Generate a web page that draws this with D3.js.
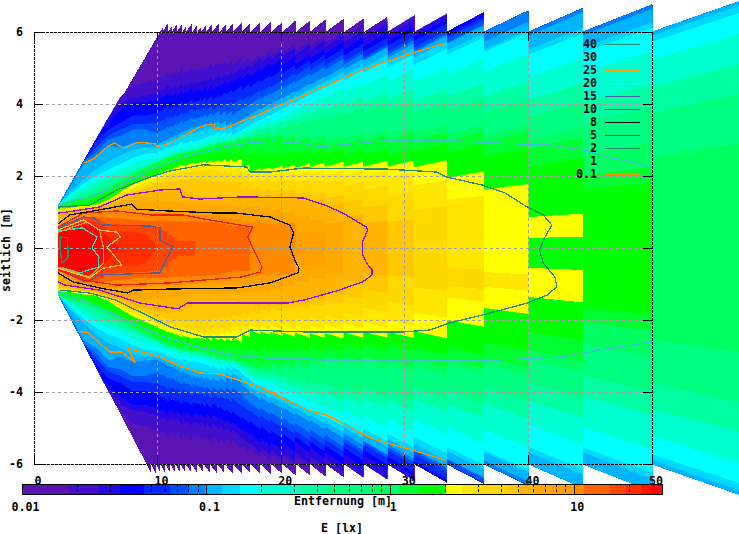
<!DOCTYPE html>
<html><head><meta charset="utf-8">
<style>html,body{margin:0;padding:0;background:#fff}svg{display:block}text{font-family:"DejaVu Sans Mono",monospace;font-weight:bold;font-size:11.67px;fill:#000}</style>
<script src="https://cdn.jsdelivr.net/npm/d3@7/dist/d3.min.js"></script>
</head><body><div id="c"></div>
<script>
// colour bands: lower limit of E [lx] and colour
const bandFloors=[0.01,0.018,0.026,0.034,0.046,0.0635,0.08,0.098,0.122,0.152,0.2,0.32,0.45,0.8,1.12,1.44,2,2.45,3,4.2,5,6,7.4,10,11.3,15.6,19,23,26];
const bandColors=["#5a14b4","#4210cc","#2808e0","#0000ff","#0828ff","#0050ff","#0080ff","#00b4ff","#00d8ff","#00ffff","#00ffd0","#00ffa0","#00ff80","#00ff60","#00ff30","#00ff00","#ffff00","#ffe600","#ffd800","#ffc800","#ffb400","#ffa800","#ffa000","#ff8c00","#ff6400","#ff4600","#ff2d00","#ff1400","#ff0000"];
// measuring stations along the road [m]
const stations=[2,3,4,5,6,7,8,9,10,11.5,13,14.5,16,17.4,19.1,21.1,23.5,25,26.6,28.6,30.7,33.4,36.4,40,44.4,50];
const stationEnd=57.1;
const lowerStretch=[1.1,1.1,1.1,1.1,1.1,1.08,1.08,1.08,1.08,1.07,1.06,1.05,1.05,1.08,1.07,1.06,1.05,1.04,1.03,1.03,1.03,1.03,1.03,1.03,1.02,1];
// lateral half width [m] reached by each band at each station
const band1=[1.2,1.8,2.4,3,3.6,4.19,4.5,4.58,4.67,4.78,4.89,5,5.08,5.14,5.33,5.47,5.69,5.86,5.94,6,6,6,6,6,6,6];
const band2=[1.2,1.8,2.4,3,3.6,4.03,4.17,4.22,4.31,4.39,4.53,4.64,4.78,5,5.22,5.36,5.56,5.69,5.81,5.89,5.97,6,6,6,6,6];
const band3=[1.2,1.8,2.4,3,3.47,3.81,4.03,4.03,4.11,4.19,4.31,4.39,4.58,4.75,5.03,5.08,5.39,5.5,5.58,5.72,5.86,6,6,6,6,6];
const band4=[1.2,1.8,2.4,2.92,3.28,3.47,3.67,3.67,3.75,3.89,4.03,4.11,4.31,4.44,4.72,4.94,5.22,5.33,5.44,5.61,5.75,5.89,6,6,6,6];
const band5=[1.2,1.8,2.4,2.78,3.11,3.28,3.44,3.44,3.47,3.61,3.78,3.83,3.97,4.17,4.44,4.78,5.06,5.17,5.28,5.44,5.56,5.81,6,6,6,6];
const band6=[1.2,1.8,2.4,2.64,3,3.11,3.28,3.28,3.19,3.39,3.56,3.67,3.67,3.97,4.25,4.58,4.94,5.08,5.22,5.36,5.47,5.69,6,6,6,6];
const band7=[1.2,1.72,2.31,2.5,2.83,2.78,2.92,2.89,2.86,3.11,3.33,3.42,3.39,3.69,3.97,4.31,4.72,4.94,5.19,5.28,5.42,5.67,5.72,5.89,5.89,6];
const band8=[1.2,1.58,1.89,2.17,2.39,2.56,2.72,2.78,2.78,3,3.17,3.28,3.28,3.56,3.83,4.17,4.58,4.78,5,5.14,5.28,5.47,5.5,5.5,5.56,5.89];
const band9=[1.2,1.5,1.78,2,2.17,2.33,2.5,2.61,2.64,2.83,2.94,3.11,3.11,3.39,3.67,4.03,4.44,4.64,4.86,5,5.08,5.36,5.44,5.36,5.42,5.72];
const band10=[1.2,1.44,1.67,1.86,2,2.17,2.33,2.44,2.5,2.69,2.83,3,3.06,3.28,3.47,3.83,4.17,4.31,4.5,4.61,4.61,4.81,4.89,4.75,4.86,5.22];
const band11=[1.2,1.36,1.56,1.72,1.89,2.03,2.17,2.28,2.39,2.58,2.72,2.86,2.97,3.19,3.33,3.61,3.83,3.94,4.03,4.11,4.06,4.19,4.19,4.11,4.03,4.47];
const band12=[1.2,1.31,1.44,1.58,1.72,1.89,2.06,2.22,2.33,2.5,2.64,2.78,2.89,3.06,3.19,3.39,3.56,3.67,3.75,3.83,3.75,3.83,3.75,3.64,3.47,3.75];
const band13=[1.18,1.29,1.39,1.5,1.66,1.86,2.06,2.22,2.39,2.58,2.7,2.86,2.94,3.03,3.06,3.03,2.97,3.03,3.06,3.11,3.17,3.14,3.11,3,2.6,2.53];
const band14=[1.17,1.28,1.36,1.47,1.61,1.81,2,2.17,2.33,2.53,2.64,2.78,2.86,2.94,2.97,2.92,2.81,2.86,2.92,2.97,2.97,2.97,2.94,2.75,2];
const band15=[1.14,1.19,1.22,1.39,1.53,1.72,1.92,2.08,2.22,2.44,2.56,2.58,2.61,2.56,2.56,2.58,2.58,2.58,2.58,2.58,2.67,2.64,2.53,2.25,1.61];
const band16=[1.08,1.11,1.17,1.19,1.33,1.56,1.75,1.89,2.03,2.22,2.33,2.36,2.39,2.11,2.17,2.22,2.25,2.25,2.25,2.25,2.25,1.94,1.61];
const band17=[1.06,1.08,1.14,1.17,1.31,1.5,1.67,1.81,1.94,2.11,2.22,2.25,2.17,2,2,2.03,2.03,2,2,1.94,1.75,1.33];
const band18=[1.03,1.06,1.11,1.14,1.28,1.44,1.61,1.72,1.86,2,2.11,2.11,2,1.86,1.83,1.81,1.78,1.72,1.61,1.44,1.06];
const band19=[1,1.03,1.08,1.11,1.25,1.39,1.53,1.64,1.75,1.83,1.89,1.83,1.75,1.61,1.56,1.5,1.39,1.28,1.14,0.72];
const band20=[0.94,1,1.06,1.11,1.19,1.33,1.44,1.53,1.61,1.61,1.39,1.39,1.39,1.42,1.42,1.39,1.17,0.89,0.69];
const band21=[0.83,0.97,1.03,1.08,1.14,1.22,1.33,1.31,1.28,1.25,1.19,1.17,1.14,1.11,1.06,0.86,0.67];
const band22=[0.69,0.92,1,1.06,1.11,1.14,1.22,1.06,1.03,1,0.97,0.97,0.94,0.92,0.94,0.42];
const band23=[0.61,0.75,0.92,0.97,1,1,1,0.97,0.94,0.92,0.89,0.86,0.78,0.69,0.67];
const band24=[0.58,0.69,0.81,0.86,0.83,0.81,0.78,0.75,0.75,0.72,0.72,0.69,0.58];
const band25=[0.56,0.69,0.86,0.83,0.64,0.64,0.61,0.61,0.56,0.19];
const band26=[0.54,0.67,0.78,0.72,0.5,0.45,0.44,0.4];
const band27=[0.53,0.62,0.69,0.62,0.3];
const band28=[0.5,0.58,0.62,0.56];
const bandTable=[band1,band2,band3,band4,band5,band6,band7,band8,band9,band10,band11,band12,band13,band14,band15,band16,band17,band18,band19,band20,band21,band22,band23,band24,band25,band26,band27,band28];
// outer limit of the measured field
const edgeXUpper=[2,10.2,10.4,10.85,11.15,11.55,12,12.3,12.8,13.2,13.5,13.9,14.4,15,15.5,16.1,16.8,17.5,18.3,19.2,20.1,21.2,22.3,23.6,25.1,26.7,28.6,30.8,33.4,36.4,40,44.4,50];
const edgeUpper=[1.2,6,6,6,6,6,6,6,6,6,6,6,6,6,6,6,6,6,6,6,6,6,6,6,6,6,6,6,6,6,6,6,6];
const edgeXLower=[2,9.1,9.45,9.85,10.2,10.6,11,11.4,11.8,12.25,12.7,13.2,13.7,14.2,14.8,15.4,16.1,16.8,17.5,18.3,19.2,20.1,21.2,22.3,23.6,25.1,26.7,28.6,30.8,33.4,36.4,40,44.4,50];
const edgeLower=[1.32,6,6,6,6,6,6,6,6,6,6,6,6,6,6,6,6,6,6,6,6,6,6,6,6,6,6,6,6,6,6,6,6,6];
// local lobes that do not follow the band table: [from, to, band index, y top, y bottom]
const lobes=[[40,44.4,16,0.86,0.28],[40,44.4,16,-0.55,-1.36],[36.4,40,17,-0.67,-1.08],[33.4,36.4,18,-0.55,-1.05],[25,26.6,20,-0.7,0.0]];
// isolux lines
const isoLevels=["40","30","25","20","15","10","8","5","2","1","0.1"];
const isoColors=["#2a8a70","#40d8c8","#ffa000","#f0c040","#4a60a0","#e82010","#000000","#9010d0","#2a8a78","#40c0d0","#ff9000"];
const iso40=[[2.1,.31],[2.7,.28],[2.75,0],[2.75,-.28],[2.25,-.42],[2.1,0],[2.1,.31]];
const iso30=[[1.94,.47],[3.9,.56],[5.1,.31],[4.7,0],[5.25,-.25],[5.2,-.53],[3.7,-.69],[2.1,-.53]];
const iso25=[[1.94,.44],[4.3,.72],[5.3,.5],[5.6,.03],[5.6,-.42],[4.5,-.81],[1.94,-.53]];
const iso20=[[1.94,.5],[4,.78],[5.3,.5],[6.7,.44],[7,.31],[5.9,.03],[7.1,-.47],[5.6,-.56],[4.5,-.83],[1.94,-.56]];
const iso15=[[1.94,.56],[4,.86],[4.9,.83],[5.5,.64],[9.4,.61],[10.2,.56],[10.2,.22],[11.25,.03],[10.8,-.25],[10.2,-.69],[5.3,-.75],[4.3,-.94],[1.94,-.61]];
const iso10=[[1.94,.58],[4,.97],[6.7,1.03],[9.4,.92],[12.05,.92],[13.7,.81],[17.7,.58],[17.3,.31],[17.7,0],[18.45,-.53],[18.3,-.67],[16.7,-.81],[13.7,-.89],[11,-.97],[6.7,-1.03],[4,-.89],[1.94,-.61]];
const iso8=[[1.94,.67],[2.9,.92],[5.3,1.06],[7.9,1.22],[8.3,1.08],[10.8,1.03],[14.8,.97],[16.4,.97],[19.1,.86],[20.7,.64],[21,.42],[20.7,.03],[21.1,-.33],[21.45,-.56],[21.35,-.69],[19.1,-.97],[16.4,-1.11],[11,-1.14],[8,-1.17],[7.6,-1.25],[5.3,-1.11],[3.15,-.94],[1.94,-.69]];
const iso5=[[1.94,.97],[2.7,1],[5.3,1.14],[7.5,1.47],[10.2,1.61],[11.8,1.64],[12,1.42],[13.4,1.36],[16.9,1.42],[21.8,1.39],[23.7,1.17],[25,.97],[26.9,.58],[27,.5],[26.55,.14],[26.55,-.14],[26.9,-.42],[27.35,-.61],[27.35,-.75],[26.6,-.94],[24.5,-1.19],[21.9,-1.44],[20.5,-1.53],[15.45,-1.53],[12.4,-1.53],[11.65,-1.69],[8.6,-1.53],[5.3,-1.17],[2.5,-1.03],[1.94,-.94]];
const iso2=[[1.94,1.14],[4.5,1.19],[6.7,1.61],[9.4,1.97],[11,2.14],[13.7,2.31],[17.2,2.25],[17.5,2.11],[19.1,2.11],[21.8,2.22],[28.6,2.19],[32.6,2.11],[33.4,1.97],[36.25,1.75],[38.1,1.53],[39.9,1.14],[41.2,.92],[41.9,.64],[41.3,.28],[40.9,-.06],[41.2,-.42],[42.15,-.81],[42.3,-1.08],[41.5,-1.31],[39.9,-1.53],[36.3,-1.86],[33.65,-2.08],[32,-2.28],[29.9,-2.33],[21.8,-2.33],[17.5,-2.28],[16.4,-2.47],[13.7,-2.47],[11,-2.19],[8.6,-1.78],[6.55,-1.44],[4.5,-1.25],[2.1,-1.17]];
const iso1Upper=[[1.94,1.19],[3.3,1.33],[4.5,1.42],[7,1.75],[9.4,2.17],[12.2,2.53],[15,2.78],[17.5,2.92],[19.3,2.97],[21.5,2.92],[23.1,2.81],[25.6,2.89],[28.2,2.97],[32.8,3],[36.1,2.94],[39.3,2.89],[41.75,2.86],[44.4,2.72],[46.85,2.5],[50,2.25]];
const iso1Lower=[[1.94,-1.22],[3.3,-1.39],[5.3,-1.67],[7.8,-2.06],[10.2,-2.42],[12.6,-2.69],[15.9,-2.97],[19.1,-3.06],[21.5,-3.06],[23.1,-3.11],[29.6,-3.14],[37.7,-3.11],[42.55,-3.03],[45.8,-2.83],[50,-2.61]];
const iso01Upper=[[4.1,2.36],[4.9,2.5],[6,2.83],[6.5,2.92],[7,2.81],[7.4,2.78],[8.2,2.92],[8.6,2.94],[9.8,2.89],[9.95,2.83],[10.6,2.86],[11.8,3.06],[13.4,3.36],[14,3.42],[14.6,3.44],[14.6,3.31],[15.45,3.33],[16.7,3.5],[18.3,3.72],[19.9,3.97],[21.5,4.19],[23.95,4.56],[26.4,4.92],[29.6,5.31],[33.25,5.69]];
const iso01Lower=[[3.5,-2.31],[4.4,-2.36],[5.2,-2.61],[6.15,-2.89],[7.1,-2.89],[8.2,-3.19],[7.6,-2.78],[9.1,-2.92],[10.45,-3.06],[11.55,-3.25],[13.4,-3.47],[15,-3.5],[16.9,-3.72],[18.5,-3.89],[20.15,-4.17],[22.1,-4.5],[23.7,-4.64],[27.2,-5.28],[30,-5.56],[31.4,-5.69],[33.25,-5.89]];
const isoLines=[[iso40,"#2a8a70"],[iso30,"#40d8c8"],[iso25,"#ffa000"],[iso20,"#f0c040"],[iso15,"#4a60a0"],[iso10,"#e82010"],[iso8,"#000000"],[iso5,"#9010d0"],[iso2,"#2a8a78"],[iso1Upper,"#40c0d0"],[iso1Lower,"#40c0d0"],[iso01Upper,"#ff9000"],[iso01Lower,"#ff9000"]];
// axes
const xTicks=[0,10,20,30,40,50];
const yTicks=[-6,-4,-2,0,2,4,6];
const cbMajor=[0.01,0.1,1,10];
const cbMinor=[0.02,0.03,0.04,0.05,0.06,0.07,0.08,0.09,0.2,0.3,0.4,0.5,0.6,0.7,0.8,0.9,2,3,4,5,6,7,8,9,20];

const W=739,H=534;
const x=d3.scaleLinear().domain([0,50]).range([34,652]);
const y=d3.scaleLinear().domain([-6,6]).range([464,32]);
const cb=d3.scaleLog().domain([0.01,30]).range([22.5,662]);
const svg=d3.select("#c").append("svg").attr("width",W).attr("height",H).attr("viewBox",`0 0 ${W} ${H}`);
const fieldG=svg.append("g").attr("shape-rendering","crispEdges");
const line=d3.line().x(d=>x(d[0])).y(d=>y(d[1]));
const fanStart=10;

function quad(pts,color){
  fieldG.append("path").attr("d",line(pts)+"Z").attr("fill",color).attr("stroke",color).attr("stroke-width",0.6);
}
// outer band, upper and lower half separately
edgeXUpper.forEach((s,i)=>{
  const e=i+1<edgeXUpper.length?edgeXUpper[i+1]:stationEnd;
  const w=edgeUpper[i],n=edgeUpper[i+1]??w;
  const r=s>=fanStart?e/s:null;
  fieldG.append("path").attr("d",line([[s,0],[s,w],[e,r?w*r:n],[e,0]])+"Z").attr("fill",bandColors[0]);
});
edgeXLower.forEach((s,i)=>{
  const e=i+1<edgeXLower.length?edgeXLower[i+1]:stationEnd;
  const w=edgeLower[i],n=edgeLower[i+1]??w;
  const r=s>=9?e/s:null;
  fieldG.append("path").attr("d",line([[s,0],[s,-w],[e,r?-w*r:-n],[e,0]])+"Z").attr("fill",bandColors[0]);
});
function lowerCap(st){return st<9.1?st*0.66:6;}
bandTable.forEach((row,k)=>{
  const col=bandColors[k+1];
  stations.forEach((s,i)=>{
    const w=row[i]||0;
    const last=i+1>=stations.length;
    const e=last?stationEnd:stations[i+1];
    const nw=last?w:(row[i+1]||0);
    if(w<=0&&nw<=0)return;
    const lw=Math.min(w*lowerStretch[i],lowerCap(s));
    const nl=last?lw:Math.min(nw*lowerStretch[i+1],lowerCap(e));
    if(s<fanStart){quad([[s,w],[e,nw],[e,-nl],[s,-lw]],col);return;}
    // the road sections between two stations each fan out on rays from the origin
    const cuts=[s,...edgeXUpper.filter(t=>t>s+0.05&&t<e-0.05),e];
    for(let c=0;c+1<cuts.length;c++){
      const a=cuts[c],b=cuts[c+1],f=(a-s)/(e-s),r=b/a;
      const tw=nw>0?w+(nw-w)*f:w, bw=nw>0?lw+(nl-lw)*f:lw;
      quad([[a,tw],[b,tw*r],[b,-bw*r],[a,-bw]],col);
    }
  });
});
lobes.forEach(l=>{
  const [a,b,k,t,u]=l,r=b/a;
  fieldG.append("path").attr("d",line([[a,t],[b,t*r],[b,u*r],[a,u]])+"Z").attr("fill",bandColors[k]);
});

// grid
const gridG=svg.append("g").attr("shape-rendering","crispEdges").attr("stroke","#a0a0a0").attr("stroke-dasharray","3 3").attr("fill","none");
gridG.selectAll(".gx").data(xTicks.slice(1,-1)).join("line").attr("x1",d=>x(d)).attr("x2",d=>x(d)).attr("y1",y(6)).attr("y2",y(-6));
gridG.selectAll(".gy").data(yTicks).join("line").attr("y1",d=>y(d)).attr("y2",d=>y(d)).attr("x1",x(0)).attr("x2",x(50));

// isolines
const isoG=svg.append("g").attr("fill","none").attr("shape-rendering","crispEdges");
isoLines.forEach(([pts,c])=>isoG.append("path").attr("d",line(pts)).attr("stroke",c).attr("stroke-width",1.3));

// border and ticks
const fr=svg.append("g").attr("shape-rendering","crispEdges").attr("stroke","#000");
fr.append("rect").attr("x",x(0)).attr("y",y(6)).attr("width",x(50)-x(0)).attr("height",y(-6)-y(6)).attr("fill","none").attr("stroke-dasharray","3 1");
xTicks.forEach(t=>{
  fr.append("line").attr("x1",x(t)).attr("x2",x(t)).attr("y1",y(-6)).attr("y2",y(-6)-9);
  fr.append("line").attr("x1",x(t)).attr("x2",x(t)).attr("y1",y(6)).attr("y2",y(6)+9);
});
yTicks.forEach(t=>{
  fr.append("line").attr("y1",y(t)).attr("y2",y(t)).attr("x1",x(0)).attr("x2",x(0)+9);
  fr.append("line").attr("y1",y(t)).attr("y2",y(t)).attr("x1",x(50)).attr("x2",x(50)-9);
});
// tick labels
svg.selectAll(".xl").data(xTicks).join("text").attr("x",d=>x(d)+4).attr("y",485).attr("text-anchor","middle").text(d=>d);
svg.selectAll(".yl").data(yTicks).join("text").attr("x",23).attr("y",d=>y(d)+4).attr("text-anchor","end").text(d=>d);
svg.append("text").attr("transform","translate(10,250) rotate(-90)").attr("text-anchor","middle").text("seitlich [m]");

// legend
isoLevels.forEach((l,i)=>{
  const ly=44+i*13;
  svg.append("text").attr("x",597).attr("y",ly+4).attr("text-anchor","end").text(l);
  svg.append("line").attr("x1",605).attr("x2",640).attr("y1",ly).attr("y2",ly).attr("stroke",isoColors[i]).attr("shape-rendering","crispEdges");
});

// colour bar
const cbG=svg.append("g").attr("shape-rendering","crispEdges");
bandFloors.forEach((f,i)=>{
  const hi=bandFloors[i+1]??30;
  cbG.append("rect").attr("x",cb(f)).attr("y",484).attr("width",cb(hi)-cb(f)+0.5).attr("height",10).attr("fill",bandColors[i]);
});
cbG.append("rect").attr("x",cb(0.01)).attr("y",484).attr("width",cb(30)-cb(0.01)).attr("height",10).attr("fill","none").attr("stroke","#000");
cbG.selectAll(".mn").data(cbMinor).join("line").attr("x1",d=>cb(d)).attr("x2",d=>cb(d)).attr("y1",484).attr("y2",494).attr("stroke","#000").attr("stroke-dasharray","3 2");
cbG.selectAll(".mj").data(cbMajor.slice(1)).join("line").attr("x1",d=>cb(d)).attr("x2",d=>cb(d)).attr("y1",484).attr("y2",494).attr("stroke","#000");
svg.selectAll(".cl").data(cbMajor).join("text").attr("x",d=>cb(d)+3).attr("y",511).attr("text-anchor","middle").text(d=>d);
svg.append("text").attr("x",343).attr("y",505).attr("text-anchor","middle").text("Entfernung [m]");
svg.append("text").attr("x",342).attr("y",532).attr("text-anchor","middle").text("E [lx]");
</script></body></html>
